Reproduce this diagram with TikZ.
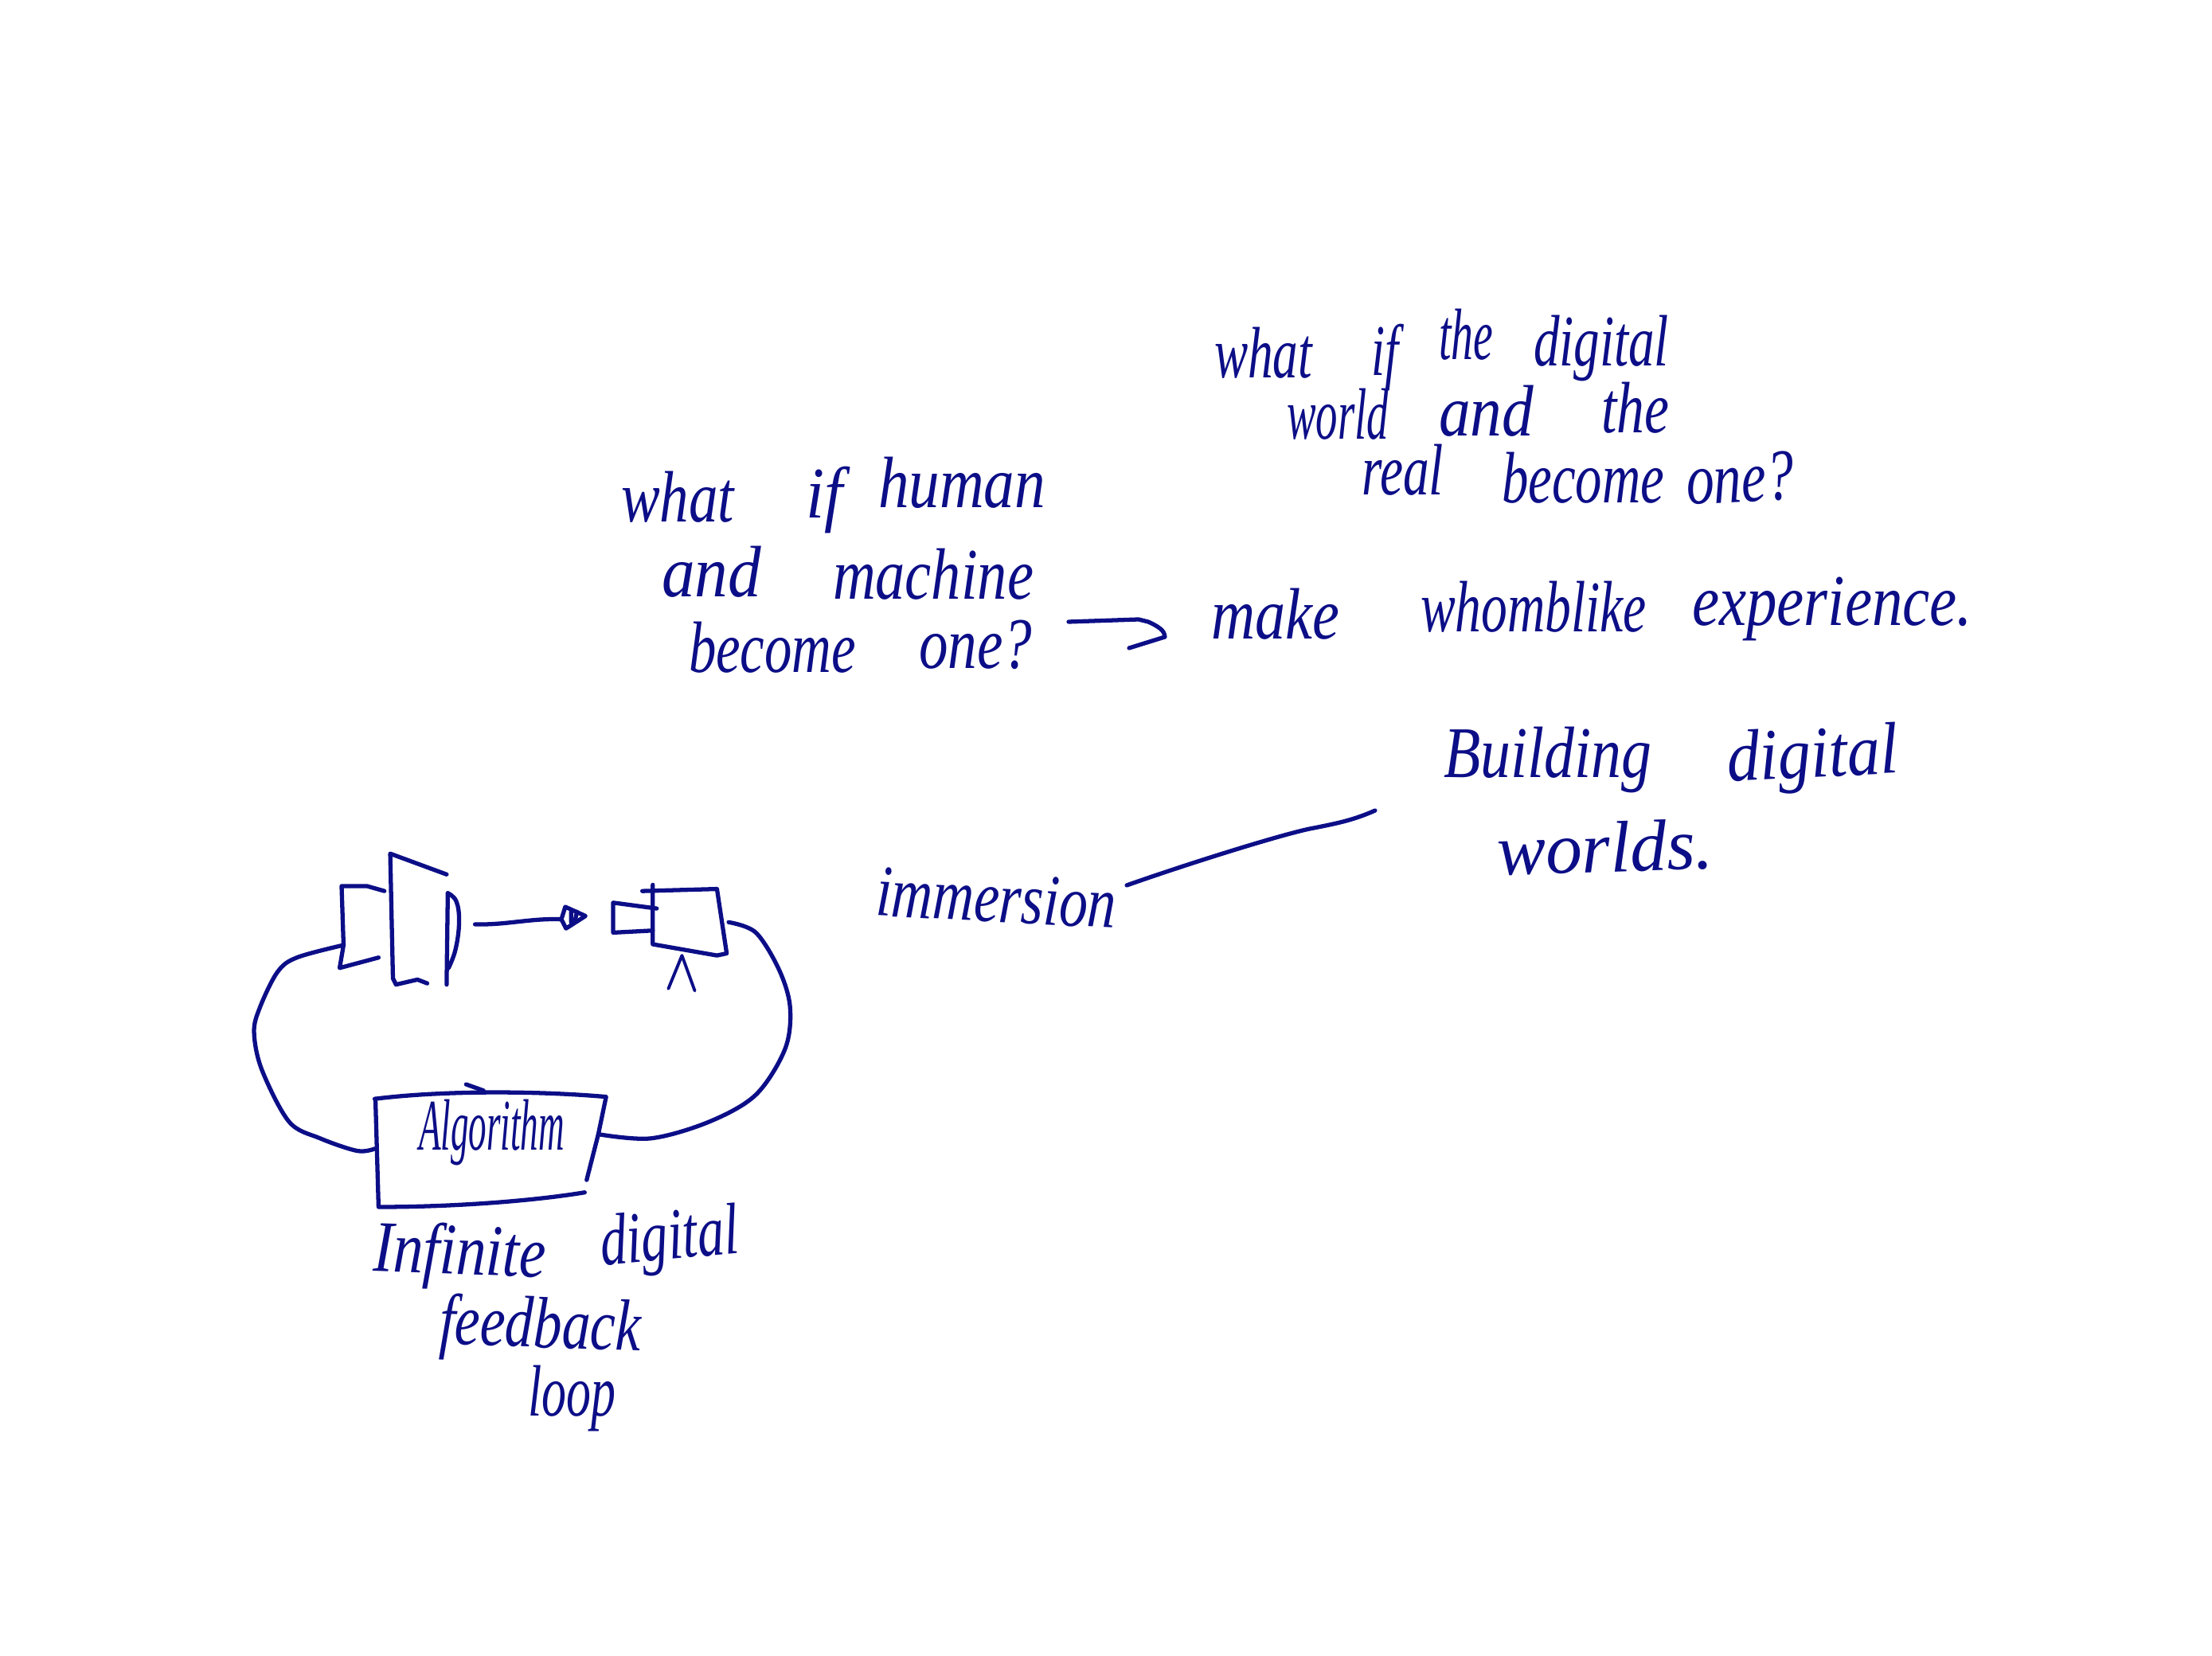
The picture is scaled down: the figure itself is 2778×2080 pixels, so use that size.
\documentclass[tikz,border=0pt]{standalone}
\usepackage{fontspec}
\setmainfont{Liberation Serif}
\usetikzlibrary{arrows.meta}
\definecolor{ink}{RGB}{12,14,135}
\newlength{\pxu}\setlength{\pxu}{0.01cm}
\newcommand{\wrd}[6]{\node[wordstyle,rotate=#1] (#2) at (#3,#4) {\resizebox{#5\pxu}{\height}{#6}};}
\tikzset{
  wordstyle/.style={anchor=base west,inner sep=0pt,outer sep=0pt,text=ink,font=\itshape\fontsize{26}{29}\selectfont},
  pen/.style={draw=ink,line width=1.5pt,line cap=round,line join=round},
  thinpen/.style={draw=ink,line width=1.1pt,line cap=round,line join=round}
}
\begin{document}
\begin{tikzpicture}[x=0.01cm,y=-0.01cm]
\useasboundingbox[fill=white] (0,0) rectangle (2778,2080);
% first question
\wrd{0}{w1}{780}{656}{142}{what}
\wrd{0}{w2}{1012}{651}{46}{if}
\wrd{0}{w3}{1103}{638}{210}{human}
\wrd{0}{w4}{831}{750}{125}{and}
\wrd{0}{w5}{1046}{753}{252}{machine}
\wrd{0}{w6}{865}{845}{210}{become}
\wrd{0}{w7}{1154}{840}{142}{one?}
% second question
\wrd{0}{t1}{1525}{475}{123}{what}
\wrd{0}{t2}{1722}{472}{34}{if}
\wrd{0}{t3}{1807}{452}{68}{the}
\wrd{0}{t4}{1926}{460}{170}{digital}
\wrd{0}{t5}{1616}{552}{128}{world}
\wrd{0}{t6}{1807}{548}{119}{and}
\wrd{0}{t7}{2011}{544}{85}{the}
\wrd{0}{t8}{1710}{622}{103}{real}
\wrd{0}{t9}{1886}{632}{204}{become}
\wrd{3}{t10}{2119}{634}{136}{one?}
% make ...
\wrd{0}{m1}{1521}{803}{161}{make}
\wrd{0}{m2}{1784}{794}{284}{whomblike}
\wrd{0}{m3}{2125}{786}{352}{experience.}
% building
\wrd{0}{b1}{1813}{977}{261}{Building}
\wrd{3}{b2}{2170}{982}{216}{digital}
\wrd{2}{b3}{1881}{1100}{272}{worlds.}
\wrd{-3}{im}{1099}{1150}{302}{immersion}
% feedback caption
\wrd{0}{alg}{526}{1445}{183}{Algorithm}
\wrd{-2}{c1}{468}{1597}{217}{Infinite}
\wrd{5}{c2}{756}{1589}{175}{digital}
\wrd{-2}{c3}{551}{1688}{253}{feedback}
\wrd{0}{c4}{663}{1778}{110}{loop}
% connectors
\coordinate (ma) at (1342,781);
\coordinate (mb) at (1442,781);
\draw[pen] (ma) -- (1430,778) -- (mb) .. controls (1462,790) and (1462,795) .. (1463,800) -- (1418,814);
\coordinate (ia) at (1415,1112);
\coordinate (ib) at (1727,1018);
\draw[pen] (ia) .. controls (1500,1082) and (1620,1045) .. (1650,1040) .. controls (1680,1034) and (1700,1030) .. (ib);
% sketch
\begin{scope}[shift={(280,1020)},x=0.004878cm,y=-0.00522cm]
  \coordinate (sl) at (310,320);
  \coordinate (algw) at (390,810);
  \coordinate (alge) at (965,775);
  \coordinate (sr) at (1300,265);
  \coordinate (fa) at (648,270);
  \coordinate (fb) at (870,258);
  % left device
  \draw[pen] (415,190) -- (370,178) -- (305,178) -- (310,320) -- (300,375) -- (400,350);
  \draw[pen] (575,150) -- (430,100) -- (437,400) -- (445,415) -- (500,403) -- (525,412);
  \draw[pen] (578,195) -- (575,415);
  \draw[pen] plot[smooth,tension=0.7] coordinates {(578,195) (600,215) (607,265) (598,330) (580,375)};
  % forward arrow
  \draw[pen] (fa) .. controls (730,272) and (790,255) .. (fb) -- (880,228) -- (932,250) -- (882,280) -- (fb);
  \draw[pen] (895,240) -- (895,265) (910,240) -- (905,262);
  % right device
  \draw[pen] (1078,190) -- (1270,185) -- (1295,340) -- (1270,345) -- (1105,318) -- (1105,175);
  \draw[pen] (1115,232) -- (1003,218) -- (1003,290) -- (1105,285);
  \draw[thinpen] (1145,425) -- (1180,345) -- (1213,430);
  % algorithm box
  \draw[pen] (390,690) .. controls (560,670) and (800,670) .. (985,685) -- (965,775) -- (935,885);
  \draw[pen] (392,690) -- (400,950) .. controls (600,950) and (800,935) .. (930,915);
  \draw[pen] (625,655) -- (670,670);
  % loop
  \draw[pen] plot[smooth,tension=0.55] coordinates {(sl) (190,350) (140,385) (95,470) (80,530) (100,620) (170,745) (250,785) (345,815) (algw)};
  \draw[pen] plot[smooth,tension=0.55] coordinates {(sr) (1370,290) (1430,380) (1458,470) (1445,570) (1370,680) (1250,745) (1100,785) (alge)};
\end{scope}
\end{tikzpicture}
\end{document}
